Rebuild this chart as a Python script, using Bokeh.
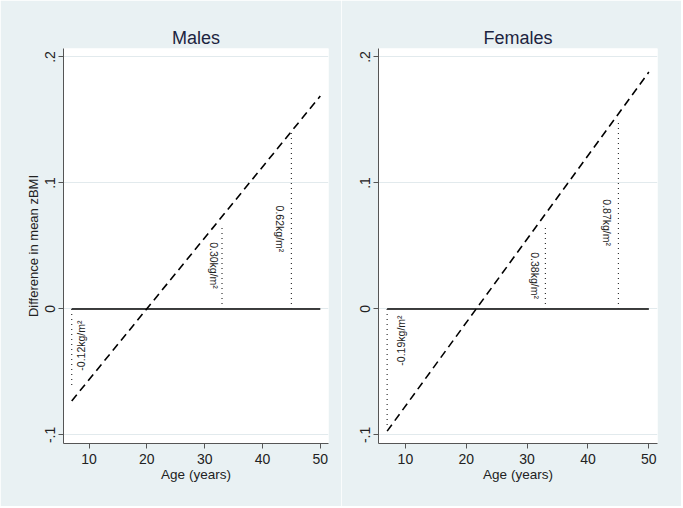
import math
from bokeh.plotting import figure
from bokeh.layouts import row
from bokeh.models import FixedTicker, Range1d, ColumnDataSource
from bokeh.core.properties import value
from bokeh.embed import file_html
from bokeh.resources import INLINE

# ---- data ----
fit_ages = [7, 50]
males_fit = [-0.073, 0.169]
females_fit = [-0.097, 0.188]
zero_ref = [0, 0]

marker_ages = [7, 33, 45]
males_marker_diff = [-0.062, 0.066, 0.140]
females_marker_diff = [-0.095, 0.065, 0.150]

males_labels = ["-0.12kg/m²", "0.30kg/m²", "0.62kg/m²"]
females_labels = ["-0.19kg/m²", "0.38kg/m²", "0.87kg/m²"]
males_label_age = [8.6, 31.6, 43.1]
males_label_y = [-0.049, 0.053, 0.082]
females_label_age = [9.3, 31.3, 43.1]
females_label_y = [-0.045, 0.045, 0.087]

x_ticks = [10, 20, 30, 40, 50]
y_ticks = [-0.1, 0, 0.1, 0.2]
y_tick_labels = ["-.1", "0", ".1", ".2"]

FONT = "Liberation Sans"
BG = "#e9f1f3"
GRID = "#e2eaed"


def panel(title, fit, marker_diff, labels, label_age, label_y, width,
          border_left, border_right, ylabel):
    p = figure(width=width, height=506,
               x_range=Range1d(5.58, 51.42), y_range=Range1d(-0.1068, 0.2067),
               output_backend="svg", toolbar_location=None,
               min_border_left=border_left, min_border_right=border_right,
               min_border_top=48, min_border_bottom=63, title=title)
    p.background_fill_color = "white"
    p.border_fill_color = BG
    p.outline_line_color = None

    p.title.align = "center"
    p.title.text_font = FONT
    p.title.text_font_size = "18px"
    p.title.text_font_style = "normal"
    p.title.text_color = "#1c2440"
    p.title.standoff = 2

    p.xgrid.visible = False
    p.ygrid.ticker = FixedTicker(ticks=y_ticks)
    p.ygrid.grid_line_color = GRID
    p.ygrid.grid_line_width = 1

    for ax in (p.xaxis[0], p.yaxis[0]):
        ax.axis_line_color = "#555555"
        ax.major_tick_line_color = "#555555"
        ax.major_tick_out = 5
        ax.major_tick_in = 0
        ax.minor_tick_line_color = None
        ax.major_label_text_font = FONT
        ax.major_label_text_font_size = "14px"
        ax.major_label_text_color = "#222222"
        ax.axis_label_text_font = FONT
        ax.axis_label_text_font_style = "normal"
        ax.axis_label_text_color = "#222222"

    p.xaxis.ticker = FixedTicker(ticks=x_ticks)
    p.xaxis.major_label_standoff = 5
    p.xaxis.axis_label = "Age (years)"
    p.xaxis.axis_label_text_font_size = "13.5px"
    p.xaxis.axis_label_standoff = 0

    p.yaxis.ticker = FixedTicker(ticks=y_ticks)
    p.yaxis.major_label_standoff = 3
    p.yaxis.major_label_overrides = dict(zip(y_ticks, y_tick_labels))
    p.yaxis.major_label_orientation = "vertical"
    if ylabel:
        p.yaxis.axis_label = ylabel
        p.yaxis.axis_label_text_font_size = "13px"
        p.yaxis.axis_label_standoff = 2

    # zero reference line
    p.line(fit_ages, zero_ref, line_color="black", line_width=1.5)
    # fitted difference (dashed)
    p.line(fit_ages, fit, line_color="black", line_width=1.6, line_dash="8 5")
    # dotted markers
    p.segment(x0=marker_ages, y0=[0] * len(marker_ages), x1=marker_ages,
              y1=marker_diff, line_color="#333333", line_width=1.2,
              line_dash="1 4")
    src = ColumnDataSource(dict(
        x=label_age, y=label_y, t=labels,
        a=[math.pi / 2 if v < 0 else -math.pi / 2 for v in label_y]))
    p.text(x="x", y="y", text="t", angle="a", source=src,
           text_font=value(FONT), text_font_size="10.5px",
           text_color="#222222", text_align="left", text_baseline="middle")
    return p


males = panel("Males", males_fit, males_marker_diff, males_labels,
              males_label_age, males_label_y, 341, 63, 13,
              "Difference in mean zBMI")
females = panel("Females", females_fit, females_marker_diff, females_labels,
                females_label_age, females_label_y, 340, 37, 24, None)

layout = row(males, females, spacing=0)
open("out.html", "w").write(file_html(layout, INLINE))
